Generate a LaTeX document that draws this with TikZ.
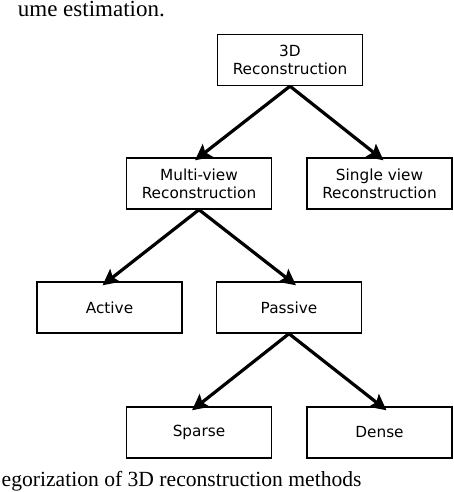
\documentclass[tikz,border=0pt]{standalone}
\usepackage{fontspec}
\setmainfont{DejaVu Sans}
\newfontfamily\capfont{Liberation Serif}
\usetikzlibrary{arrows.meta}

\begin{document}
\begin{tikzpicture}[x=1pt, y=-1pt,
    boxnode/.style={rectangle, draw=black, line width=1.4pt, minimum width=145pt, minimum height=51pt, align=center, inner sep=2pt, font=\fontsize{15.3}{17.7}\selectfont},
    arrowline/.style={line width=3.2pt, -{Stealth[length=16pt, width=16pt, inset=3pt]}},
    captext/.style={inner sep=0pt, font=\capfont\fontsize{21.6}{26}\selectfont}
    ]
    \useasboundingbox (0,0) rectangle (454,492);

    % caption lines at the page edges
    \node [captext, anchor=base east, font=\capfont\fontsize{23}{27}\selectfont] (t1) at (165,16.5) {ume estimation.};
    \node [captext, anchor=base west] (t2) at (1.5,486) {egorization of 3D reconstruction methods};

    \node [boxnode] (a1) at (290,60) {3D\\Reconstruction};

    \node [boxnode] (b1) at (199,183.5) {Multi-view\\Reconstruction};
    \node [boxnode] (b2) at (379.5,183.5) {Single view\\Reconstruction};

    \node [boxnode] (c1) at (109.5,307.5) {Active};
    \node [boxnode] (c2) at (289,307.5) {Passive};

    \node [boxnode] (d1) at (199,432.5) {Sparse};
    \node [boxnode] (d2) at (379.5,432.5) {Dense};

    \draw [arrowline] (a1.south) -- ([xshift=-4pt,yshift=-3pt]b1.north);
    \draw [arrowline] (a1.south) -- ([xshift=4pt,yshift=-3pt]b2.north);

    \draw [arrowline] (b1.south) -- ([xshift=-7pt,yshift=-4pt]c1.north);
    \draw [arrowline] (b1.south) -- ([xshift=7pt,yshift=-4pt]c2.north);

    \draw [arrowline] (c2.south) -- ([xshift=-7pt,yshift=-4pt]d1.north);
    \draw [arrowline] (c2.south) -- ([xshift=7pt,yshift=-4pt]d2.north);

\end{tikzpicture}
\end{document}
